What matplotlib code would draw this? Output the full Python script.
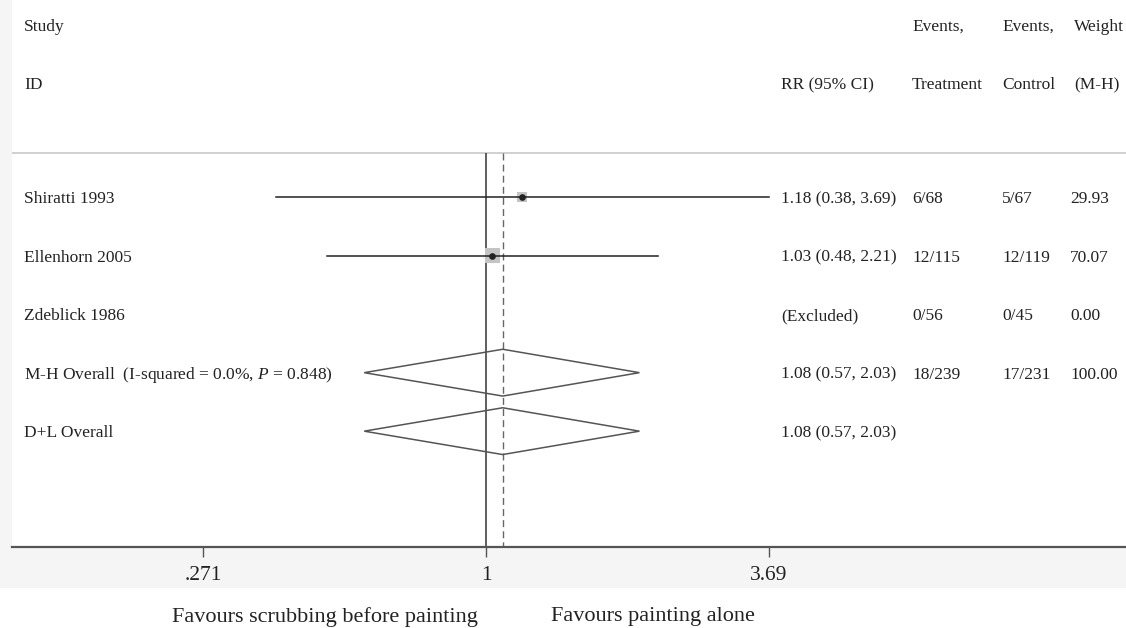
import numpy as np
import matplotlib.pyplot as plt
from matplotlib.patches import Polygon, Rectangle

plt.rcParams['font.family'] = ['Liberation Serif', 'DejaVu Serif']
plt.rcParams['mathtext.fontset'] = 'custom'
plt.rcParams['mathtext.rm'] = 'Liberation Serif'
plt.rcParams['mathtext.it'] = 'Liberation Serif:italic'

# study rows
studies = ['Shiratti 1993', 'Ellenhorn 2005', 'Zdeblick 1986']
rr = [1.18, 1.03, np.nan]
lo = [0.38, 0.48, np.nan]
hi = [3.69, 2.21, np.nan]
rr_txt = ['1.18 (0.38, 3.69)', '1.03 (0.48, 2.21)', '(Excluded)']
ev_treat = ['6/68', '12/115', '0/56']
ev_ctrl = ['5/67', '12/119', '0/45']
weights = [29.93, 70.07, 0.00]

# pooled rows
pooled = ['M-H Overall  (I-squared = 0.0%, $\\it{P}$ = 0.848)', 'D+L Overall']
pool_rr = [1.08, 1.08]
pool_lo = [0.57, 0.57]
pool_hi = [2.03, 2.03]
pool_txt = ['1.08 (0.57, 2.03)', '1.08 (0.57, 2.03)']
pool_treat = ['18/239', '']
pool_ctrl = ['17/231', '']
pool_w = ['100.00', '']

ticks = [0.271, 1, 3.69]
tick_labels = ['.271', '1', '3.69']

W, H = 1126, 628
fig = plt.figure(figsize=(W / 100, H / 100), dpi=100)

# light grey frame behind the panel
fig.patches.append(Rectangle((0, 40 / H), 1, 1 - 40 / H, transform=fig.transFigure,
                             facecolor='#f5f5f5', edgecolor='none', zorder=-10))

ax = fig.add_axes([12 / W, (H - 547) / H, 1 - 12 / W, 547 / H])
ax.set_facecolor('white')
ax.set_xscale('log')
ax.set_xlim(0.1122, 19.17)
ax.set_ylim(5.98, -3.37)
for s in ['top', 'left', 'right']:
    ax.spines[s].set_visible(False)
ax.spines['bottom'].set_color('#555555')
ax.spines['bottom'].set_linewidth(1.6)
ax.set_yticks([])
ax.set_xticks(ticks)
ax.set_xticklabels(tick_labels)
ax.minorticks_off()
ax.tick_params(axis='x', direction='out', length=7, width=1, color='#555555',
               labelsize=15.5, pad=7, labelcolor='#222222')

tr = ax.get_yaxis_transform()
def px(x):
    return (x - 12) / (W - 12)

fs = 12.5
tc = '#222222'
dy = 0.035  # small nudge so text sits on the row line

def row_text(x, y, s):
    ax.text(px(x), y + dy, s, transform=tr, fontsize=fs, color=tc, va='center')

# header
ax.axhline(-0.752, color='#c8c8c8', lw=1.2)
row_text(24, -2.95, 'Study')
row_text(24, -1.95, 'ID')
row_text(781, -1.95, 'RR (95% CI)')
row_text(912, -2.95, 'Events,')
row_text(912, -1.95, 'Treatment')
row_text(1002, -2.95, 'Events,')
row_text(1002, -1.95, 'Control')
row_text(1074, -2.95, 'Weight')
row_text(1074, -1.95, '(M-H)')

# reference lines
ax.vlines(1, -0.752, 5.98, color='#333333', lw=1.1, zorder=2)
ax.vlines(pool_rr[0], -0.752, 5.98, color='#666666', lw=1.0, linestyles=(0, (5, 3)), zorder=2)

# studies
for i in range(len(studies)):
    row_text(24, i, studies[i])
    row_text(781, i, rr_txt[i])
    row_text(912, i, ev_treat[i])
    row_text(1002, i, ev_ctrl[i])
    row_text(1070, i, '%.2f' % weights[i])
    if not np.isnan(rr[i]):
        ax.scatter([rr[i]], [i], marker='s', s=weights[i] * 1.6, color='#c4c4c4',
                   edgecolors='none', zorder=3)
        ax.plot([lo[i], hi[i]], [i, i], color='#222222', lw=1.1, zorder=4)
        ax.plot([rr[i]], [i], 'o', color='#222222', ms=3.8, zorder=5)

# pooled diamonds
n = len(studies)
for j in range(len(pooled)):
    y = n + j
    row_text(24, y, pooled[j])
    row_text(781, y, pool_txt[j])
    row_text(912, y, pool_treat[j])
    row_text(1002, y, pool_ctrl[j])
    row_text(1070, y, pool_w[j])
    d = Polygon([(pool_lo[j], y), (pool_rr[j], y - 0.4), (pool_hi[j], y), (pool_rr[j], y + 0.4)],
                closed=True, facecolor='none', edgecolor='#555555', lw=1.1, zorder=3)
    ax.add_patch(d)

fig.text(172 / W, 1 - 617 / H, 'Favours scrubbing before painting', fontsize=16,
         color=tc, va='center', ha='left')
fig.text(551 / W, 1 - 617 / H, 'Favours painting alone', fontsize=16,
         color=tc, va='center', ha='left')

fig.savefig('out.png', dpi=100, facecolor='white')
